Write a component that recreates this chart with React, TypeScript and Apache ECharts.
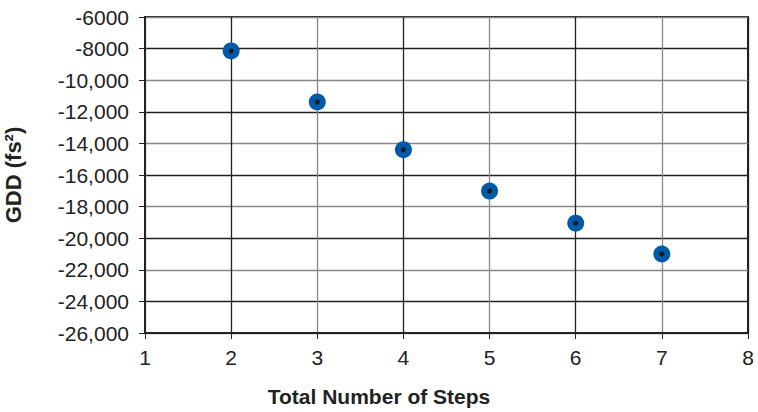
import React, { useEffect, useRef } from "react";
import * as echarts from "echarts";

const steps = [2, 3, 4, 5, 6, 7];
const gdd = [-8150, -11380, -14400, -17020, -19050, -21000];
const yTickValues = [-26000, -24000, -22000, -20000, -18000, -16000, -14000, -12000, -10000, -8000, -6000];
const yTickLabels = ["-26,000", "-24,000", "-22,000", "-20,000", "-18,000", "-16,000", "-14,000", "-12,000", "-10,000", "-8000", "-6000"];
const xTickLabels = ["1", "2", "3", "4", "5", "6", "7", "8"];

const FONT = "'Liberation Sans', Arial, Helvetica, sans-serif";

export default function App() {
  const ref = useRef<HTMLDivElement>(null);
  useEffect(() => {
    document.body.style.margin = "0";
    const chart = echarts.init(ref.current!, null, { renderer: "svg" });
    const pts = steps.map((s, i) => [s, gdd[i]]);
    chart.setOption({
      animation: false,
      backgroundColor: "#ffffff",
      title: {
        text: "Total Number of Steps",
        left: "center",
        top: 381,
        textStyle: { fontFamily: FONT, fontSize: 21, fontWeight: "bold", color: "#222" },
      },
      grid: {
        left: 145,
        right: 10,
        top: 17,
        bottom: 79,
        show: true,
        borderColor: "#222",
        borderWidth: 2,
        backgroundColor: "transparent",
        containLabel: false,
        outerBoundsMode: "none",
      },
      xAxis: {
        type: "value",
        min: 1,
        max: 8,
        interval: 1,
        axisLine: { show: true, lineStyle: { color: "#222", width: 2 } },
        axisTick: { show: true, length: 6, lineStyle: { color: "#222", width: 1 } },
        axisLabel: {
          margin: 14,
          fontFamily: FONT,
          fontSize: 21,
          color: "#222",
          formatter: (v: number) => xTickLabels[Math.round(v) - 1] ?? String(v),
        },
        splitLine: { show: true, lineStyle: { color: ["#888", "#222"], width: 1.3 } },
      },
      yAxis: {
        type: "value",
        min: -26000,
        max: -6000,
        interval: 2000,
        name: "GDD (fs²)",
        nameLocation: "middle",
        nameGap: 121,
        nameTextStyle: { fontFamily: FONT, fontSize: 22, fontWeight: "bold", color: "#222" },
        axisLine: { show: true, lineStyle: { color: "#222", width: 2 } },
        axisTick: { show: true, length: 6, lineStyle: { color: "#222", width: 1 } },
        axisLabel: {
          margin: 16,
          fontFamily: FONT,
          fontSize: 21,
          color: "#222",
          formatter: (v: number) => {
            const i = yTickValues.indexOf(Math.round(v));
            return i >= 0 ? yTickLabels[i] : String(v);
          },
        },
        splitLine: { show: true, lineStyle: { color: ["#888", "#222"], width: 1.3 } },
      },
      series: [
        {
          type: "scatter",
          data: pts,
          symbol: "circle",
          symbolSize: 17,
          itemStyle: { color: "#005aa8", opacity: 1 },
          z: 3,
        },
        {
          type: "scatter",
          data: pts,
          symbol: "circle",
          symbolSize: 5,
          itemStyle: { color: "#1a1a1a", opacity: 1 },
          z: 4,
        },
      ],
    });
    return () => chart.dispose();
  }, []);
  return <div ref={ref} style={{ position: "fixed", left: 0, top: 0, width: 758, height: 412 }} />;
}
